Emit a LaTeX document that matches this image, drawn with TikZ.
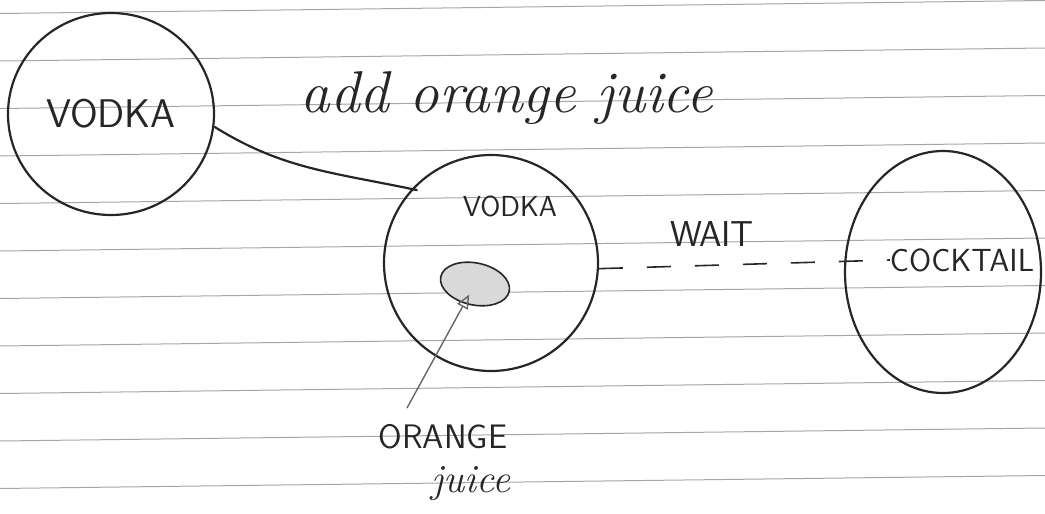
\documentclass[tikz,border=0pt]{standalone}
\usetikzlibrary{shapes.geometric,arrows.meta}

\begin{document}
\begin{tikzpicture}[
    x=1pt, y=-1pt,
    ink/.style={draw=black!85, line width=2.2pt},
    blob/.style={ellipse, ink, inner sep=0pt},
    ruled/.style={draw=black!35, line width=1pt},
    hand/.style={font=\sffamily\fontsize{#1}{#1}\selectfont, text=black!85, inner sep=0pt},
    script/.style={font=\itshape\fontsize{#1}{#1}\selectfont, text=black!85, inner sep=0pt},
    pencil/.style={draw=black!60, line width=1.4pt},
    wait/.style={ink, line width=1.6pt, dash pattern=on 24pt off 24pt}
]
\useasboundingbox (0,0) rectangle (1045,514);

% ruled paper
\foreach \y in {13.5,61,...,490}
    \draw[ruled] (0,\y) -- (1045,\y-13);

\node[blob, hand=40, minimum width=206, minimum height=202] (vodka) at (111,114) {VODKA};
\node[blob, minimum width=214, minimum height=216] (mixed) at (491,263) {};
\node[blob, minimum width=196, minimum height=242] (cocktail) at (943,272) {};
\node[ellipse, draw=black!85, line width=1.6pt, fill=black!15, minimum width=70, minimum height=42, rotate=-12] (juice) at (475,284) {};

\node[script=59, anchor=base] (addlbl) at (507,112) {add orange juice};
\node[hand=29] (mixedlbl) at (510,206) {VODKA};
\node[hand=36] (waitlbl) at (712,234) {WAIT};
\node[hand=32] (cocktaillbl) at (962,260) {COCKTAIL};
\node[hand=34] (orangelbl) at (443,437) {ORANGE};
\node[script=40, anchor=base] (juicelbl) at (471,492) {juice};
\coordinate (armstart) at (407,408);

\draw[ink, shorten >=-6pt] (vodka.-7) to[out=-32, in=168] (mixed.137);
\draw[wait] (mixed.-3) -- (cocktaillbl.west);
\draw[pencil, -{Triangle[open, length=14pt, width=12pt]}, shorten >=12pt] (armstart) -- (juice.center);

\end{tikzpicture}
\end{document}
